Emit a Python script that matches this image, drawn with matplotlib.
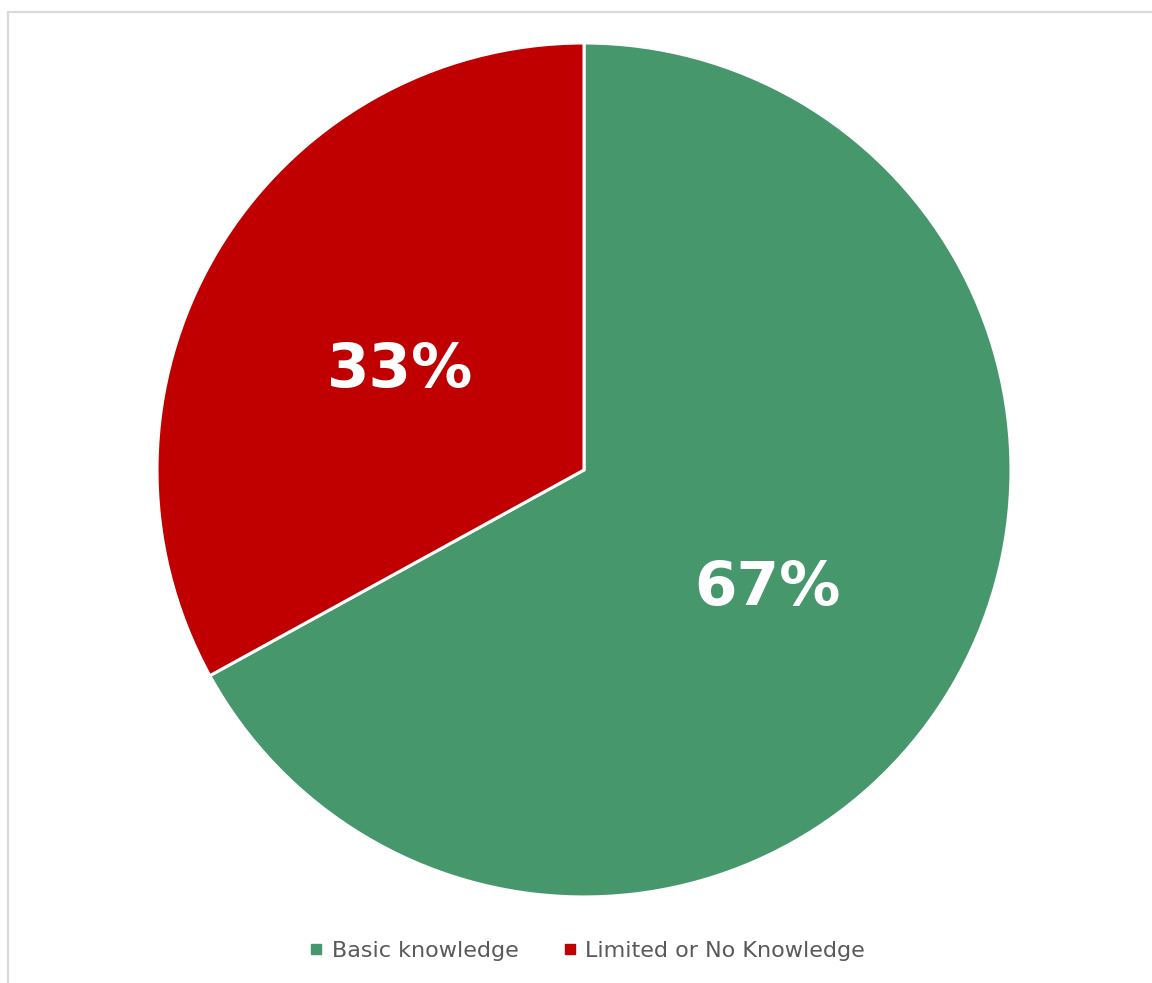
import matplotlib
matplotlib.use("Agg")
import matplotlib.pyplot as plt
from matplotlib.lines import Line2D

# knowledge split
labels = ["Basic knowledge", "Limited or No Knowledge"]
shares = [67, 33]
colors = ["#46986C", "#C00000"]

fig = plt.figure(figsize=(11.52, 9.83), dpi=100)

# chart area border (only top and left edges fall inside the frame)
border = fig.add_axes([0, 0, 1, 1], facecolor="none")
border.set_xlim(0, 1152)
border.set_ylim(983, 0)
border.plot([8, 8, 1160], [990, 12, 12], color="#D9D9D9", lw=1.6)
border.axis("off")

ax = fig.add_axes([0.1363, 0.0875, 0.7413, 0.8688])
wedges, texts, autotexts = ax.pie(
    shares, colors=colors, startangle=90, counterclock=False,
    autopct="%1.0f%%", pctdistance=0.5,
    wedgeprops=dict(edgecolor="white", linewidth=2.2),
    textprops=dict(color="white", fontsize=44, fontweight="bold", family="DejaVu Sans"),
)
# nudge the percentages down a little so the digits sit centred
for t in autotexts:
    x, y = t.get_position()
    t.set_position((x, y - 0.022))
ax.set_xlim(-1, 1)
ax.set_ylim(-1, 1)
ax.set_aspect("equal")

handles = [Line2D([], [], marker="s", linestyle="none", markersize=7,
                  markerfacecolor=c, markeredgecolor=c) for c in colors]
fig.legend(handles, labels, loc="center", bbox_to_anchor=(0.51, 1 - 951 / 983),
           ncol=2, frameon=False, handlelength=0.6, handletextpad=0.4,
           columnspacing=2.0, labelcolor="#595959",
           prop=dict(family="DejaVu Sans", size=16))

fig.savefig("out.png", dpi=100)
